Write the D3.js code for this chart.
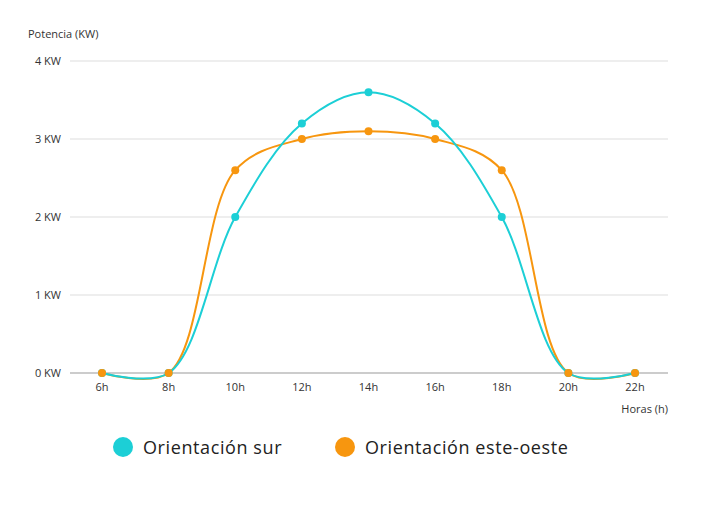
<!DOCTYPE html>
<html><head><meta charset="utf-8">
<script src="https://cdn.jsdelivr.net/npm/d3@7"></script>
<style>body{margin:0;background:#fff}text{font-family:"Open Sans",sans-serif}</style>
</head><body><svg id="c" width="712" height="513"></svg>
<script>
const hours=["6h","8h","10h","12h","14h","16h","18h","20h","22h"];
const sur=[0,0,2,3.2,3.6,3.2,2,0,0];
const esteOeste=[0,0,2.6,3,3.1,3,2.6,0,0];
const yTicks=[0,1,2,3,4];
const series=[{name:"Orientación sur",values:sur,color:"#1ccfd6"},{name:"Orientación este-oeste",values:esteOeste,color:"#f7960f"}];
const svg=d3.select("#c");
const x=d3.scalePoint().domain(hours).range([102,635]);
const y=d3.scaleLinear().domain([0,4]).range([373,61]);
svg.append("g").selectAll("line").data(yTicks).join("line")
 .attr("x1",70).attr("x2",668).attr("y1",d=>y(d)).attr("y2",d=>y(d))
 .attr("stroke",d=>d===0?"#999":"#ddd").attr("stroke-width",1);
svg.append("g").selectAll("text").data(yTicks).join("text")
 .attr("x",61).attr("y",d=>y(d)+4).attr("text-anchor","end").attr("font-size",11).attr("fill","#333").text(d=>d+" KW");
svg.append("g").selectAll("text").data(hours).join("text")
 .attr("x",d=>x(d)).attr("y",391).attr("text-anchor","middle").attr("font-size",11).attr("fill","#333").text(d=>d);
svg.append("text").attr("x",28).attr("y",38).attr("font-size",11).attr("fill","#333").text("Potencia (KW)");
svg.append("text").attr("x",668).attr("y",413).attr("text-anchor","end").attr("font-size",11).attr("fill","#333").text("Horas (h)");
const line=d3.line().x((d,i)=>x(hours[i])).y(d=>y(d)).curve(d3.curveCatmullRom.alpha(0.5));
series.slice().reverse().forEach(s=>{
 svg.append("path").attr("d",line(s.values)).attr("fill","none").attr("stroke",s.color).attr("stroke-width",2);
});
series.forEach(s=>{
 svg.append("g").selectAll("circle").data(s.values).join("circle")
  .attr("cx",(d,i)=>x(hours[i])).attr("cy",d=>y(d)).attr("r",4).attr("fill",s.color);
});
const lg=[{x:123},{x:345}];
series.forEach((s,i)=>{
 svg.append("circle").attr("cx",lg[i].x).attr("cy",447).attr("r",10).attr("fill",s.color);
 svg.append("text").attr("x",lg[i].x+20).attr("y",454).attr("font-size",18).attr("letter-spacing",0.6).attr("fill","#222").text(s.name);
});
</script></body></html>
